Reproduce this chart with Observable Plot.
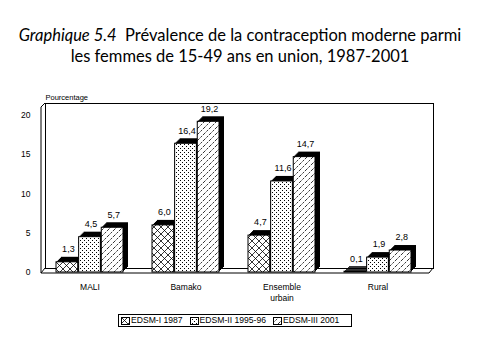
<!DOCTYPE html>
<html>
<head>
<meta charset="utf-8">
<script src="https://cdn.jsdelivr.net/npm/d3@7"></script>
<script src="https://cdn.jsdelivr.net/npm/@observablehq/plot@0.6"></script>
<style>
  html, body { margin: 0; padding: 0; background: #fff; }
  body { width: 480px; height: 363px; overflow: hidden; font-family: "Liberation Sans", Arial, sans-serif; }
  #title { height: 80px; box-sizing: border-box; padding-top: 25px; text-align: center; font-family: Lato, "Open Sans", sans-serif; font-size: 16.5px; line-height: 21px; color: #000; }
  #title i { font-style: italic; }
  #chart { height: 230px; }
  #legend { margin: 4px 0 0 118px; width: 232px; height: 11px; border: 1px solid #000; display: flex; align-items: center; font-size: 8.6px; line-height: 11px; white-space: nowrap; }
  #legend .item { display: flex; align-items: center; margin-left: 2px; margin-right: 5px; }
  #legend svg { margin-right: 1px; }
</style>
</head>
<body>
<svg width="0" height="0" style="position:absolute">
  <defs>
    <pattern id="pat-cross" patternUnits="userSpaceOnUse" width="7" height="7">
      <rect width="7" height="7" fill="#fff"/>
      <path d="M0,0L7,7M0,7L7,0" stroke="#000" stroke-width="0.8"/>
    </pattern>
    <pattern id="pat-dots" patternUnits="userSpaceOnUse" width="4" height="4">
      <rect width="4" height="4" fill="#fff"/>
      <rect x="0" y="0" width="1" height="1" fill="#000"/>
      <rect x="2" y="2" width="1" height="1" fill="#000"/>
    </pattern>
    <pattern id="pat-diag" patternUnits="userSpaceOnUse" width="6" height="6">
      <rect width="6" height="6" fill="#fff"/>
      <path d="M0,6L6,0" stroke="#000" stroke-width="0.8" stroke-dasharray="2.2,1.2"/>
    </pattern>
  </defs>
</svg>
<div id="title"><i>Graphique 5.4</i>&nbsp; Prévalence de la contraception moderne parmi<br>les femmes de 15-49 ans en union, 1987-2001</div>
<div id="chart"></div>
<div id="legend"></div>
<script>
// ---- data ----
const categories = ["MALI", "Bamako", "Ensemble urbain", "Rural"];
const categoryLabels = ["MALI", "Bamako", "Ensemble\nurbain", "Rural"];
const seriesNames = ["EDSM-I 1987", "EDSM-II 1995-96", "EDSM-III 2001"];
const edsm1 = [1.3, 6.0, 4.7, 0.1];
const edsm2 = [4.5, 16.4, 11.6, 1.9];
const edsm3 = [5.7, 19.2, 14.7, 2.8];
const yTicks = [0, 5, 10, 15, 20];
const yLabel = "Pourcentage";

// ---- styles ----
const patterns = ["url(#pat-cross)", "url(#pat-dots)", "url(#pat-diag)"];
const seriesValues = [edsm1, edsm2, edsm3];
const W = 480, H = 230;
const xRange = [25, 442];
const xPadding = 0.3;
const yRange = [192, 35];
const depth = 5;

const bw = d3.scaleBand().domain(categories).range(xRange).padding(xPadding).bandwidth();
const fmt = v => d3.format(".1f")(v).replace(".", ",");

const tables = seriesValues.map((vals, i) =>
  categories.map((c, j) => ({cat: c, value: vals[j], series: seriesNames[i]})));

const marks = [Plot.frame({stroke: "#000"})];
tables.forEach((data, i) => {
  const inL = i * bw / 3, inR = (2 - i) * bw / 3;
  for (let k = 1; k <= depth; k++) {
    marks.push(Plot.barY(data, {x: "cat", y: "value", fill: "#000", insetLeft: inL, insetRight: inR, dx: k, dy: -k}));
  }
  marks.push(Plot.barY(data, {x: "cat", y: "value", fill: patterns[i], stroke: "#000", strokeWidth: 1, insetLeft: inL, insetRight: inR}));
});
tables.forEach((data, i) => {
  marks.push(Plot.text(data, {x: "cat", y: "value", text: d => fmt(d.value), dx: (i - 1) * bw / 3 + 1, dy: -13, fontSize: 9}));
});
marks.push(Plot.text(categories, {x: d => d, text: (d, j) => categoryLabels[j], frameAnchor: "bottom", lineAnchor: "top", dy: 14, fontSize: 8.5, lineHeight: 1.25}));
marks.push(Plot.text([yLabel], {frameAnchor: "top-left", textAnchor: "start", dy: -9, fontSize: 7.5}));

const plot = Plot.plot({
  width: W,
  height: H,
  marginLeft: 45,
  marginRight: 47,
  marginTop: 23,
  marginBottom: 42,
  style: {fontFamily: "'Liberation Sans', Arial, sans-serif", fontSize: "8.5px", background: "#fff", color: "#000"},
  x: {domain: categories, range: xRange, padding: xPadding, axis: null},
  y: {domain: [0, 20], range: yRange, ticks: yTicks, tickSize: 0, tickPadding: 15, label: null},
  marks
});
document.getElementById("chart").appendChild(plot);

// 3D box decorations (floor and side wall), from the plot's own scales/margins
const svg = d3.select(plot);
const y0 = plot.scale("y").apply(0);
const L = 45, R = W - 47, T = 23, B = H - 42, d = 4;
svg.append("path")
  .attr("fill", "none").attr("stroke", "#000").attr("stroke-width", 1)
  .attr("d", `M${L},${T}L${L - d},${T + d}L${L - d},${y0 + 1}` +
             `M${L},${B}L${L - d},${y0 + 1}L${R - d},${y0 + 1}L${R},${B}`);

// legend
const legend = d3.select("#legend");
seriesNames.forEach((s, i) => {
  const it = legend.append("div").attr("class", "item");
  const sw = it.append("svg").attr("width", 9).attr("height", 8);
  sw.append("rect").attr("x", 0.5).attr("y", 0.5).attr("width", 8).attr("height", 7).attr("fill", patterns[i]).attr("stroke", "#000");
  it.append("span").text(s);
});
</script>
</body>
</html>
